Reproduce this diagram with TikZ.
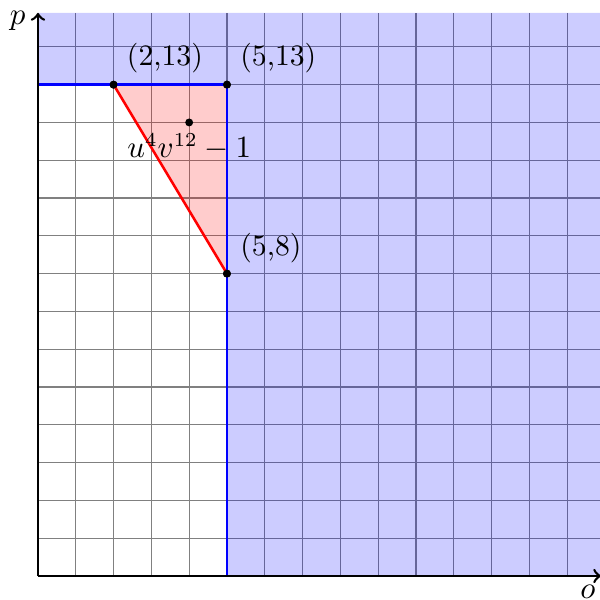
\documentclass[tikz,border=0pt]{standalone}
\usetikzlibrary{calc}
\begin{document}
\begin{tikzpicture}[x=0.47cm,y=0.47cm,
  every node/.style={font=\fontsize{10.5}{12}\selectfont},
  gridline/.style={gray,line width=0.4pt},
  region/.style={fill=blue,fill opacity=0.2},
  tri/.style={fill=red,fill opacity=0.2},
  bound/.style={blue,line width=0.9pt},
  edge/.style={red,line width=0.9pt},
  axis/.style={black,line width=0.9pt,->},
  dot/.style={circle,fill=black,inner sep=0pt,minimum size=2.8pt},
  lbl/.style={anchor=base west,inner sep=0pt}]
\useasboundingbox (-1.005,-0.635) rectangle (14.87,15.24);
\foreach \i in {1,...,14} {
  \draw[gridline] (\i,0) -- (\i,14.9);
  \draw[gridline] (0,\i) -- (14.9,\i);
}
\fill[region] (5,0) -- (14.9,0) -- (14.9,14.9) -- (0,14.9) -- (0,13) -- (5,13) -- cycle;
\coordinate (O) at (0,0);
\coordinate (A) at (0,13);
\node[dot] (P1) at (2,13) {};
\node[dot] (P2) at (5,13) {};
\node[dot] (P3) at (5,8) {};
\coordinate (B) at (5,0);
\fill[tri] (P1.center) -- (P2.center) -- (P3.center) -- cycle;
\draw[bound] (A) -- (P2.center) -- (B);
\draw[edge] (P1.center) -- (P3.center);
\coordinate (XE) at (14.9,0);
\coordinate (YE) at (0,14.9);
\draw[axis] (O) -- (XE);
\draw[axis] (O) -- (YE);
\node[dot] (M) at (4,12) {};
\node[dot] at (P1) {};
\node[dot] at (P2) {};
\node[dot] at (P3) {};
\node[lbl] (L1) at ($(P1)+(0.34,0.52)$) {(2,13)};
\node[lbl] (L2) at ($(P2)+(0.34,0.52)$) {(5,13)};
\node[lbl] (L3) at ($(P3)+(0.34,0.49)$) {(5,8)};
\node[anchor=base,inner sep=0pt] (LM) at ($(M)+(0,-0.94)$) {$u^4v^{12}-1$};
\node[anchor=base,inner sep=0pt] (LP) at (-0.54,14.58) {$p$};
\node[anchor=base,inner sep=0pt] (LO) at (14.55,-0.6) {$o$};
\end{tikzpicture}
\end{document}
